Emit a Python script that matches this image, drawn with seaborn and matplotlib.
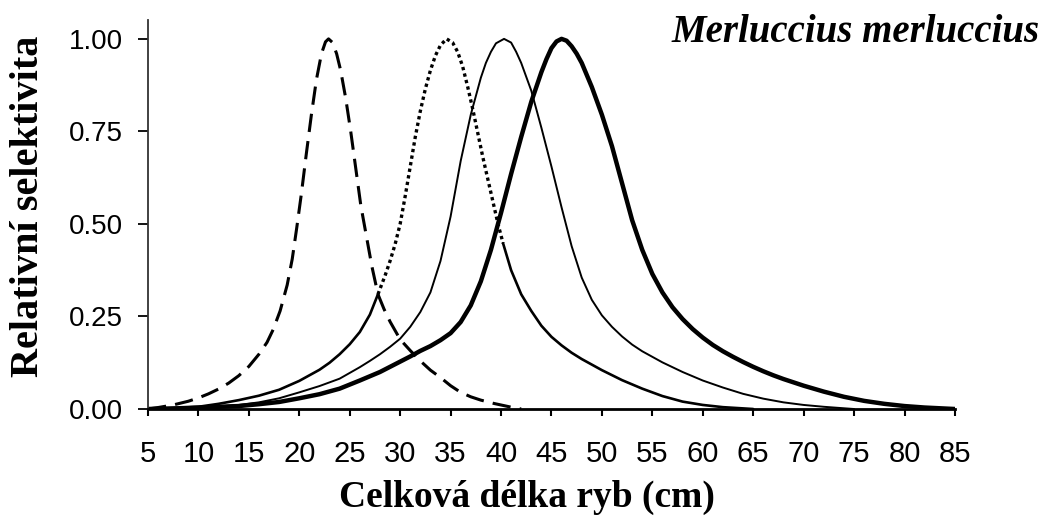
import matplotlib
matplotlib.use("Agg")
import matplotlib.pyplot as plt
import seaborn as sns

# values (length in cm, relative selectivity)
# dashed curve, peak ~23 cm
len_a = [5, 6, 7.5, 9, 10, 11, 12, 13, 14, 15, 16, 16.8, 17.4, 18.1, 18.8, 19.3, 19.75, 20.2, 20.7,
         21.2, 21.7, 22.2, 22.6, 22.9, 23.3, 23.7, 24.1, 24.6, 25.1, 25.6, 26.1, 26.7, 27.2, 27.8,
         28.4, 29, 30, 31, 32, 33, 34, 35, 36, 37, 38, 39.3, 41, 42]
sel_a = [0.0, 0.004, 0.011, 0.021, 0.03, 0.041, 0.054, 0.07, 0.09, 0.115, 0.148, 0.18, 0.214, 0.265, 0.335,
         0.405, 0.49, 0.58, 0.69, 0.795, 0.89, 0.96, 0.992, 1.0, 0.99, 0.96, 0.915, 0.84, 0.75, 0.65,
         0.55, 0.46, 0.385, 0.31, 0.27, 0.236, 0.188, 0.158, 0.13, 0.105, 0.085, 0.063, 0.045, 0.033,
         0.024, 0.015, 0.005, 0.0]

# dotted curve, peak ~35 cm (its tails are solid in the original)
len_b = [5, 8, 10, 12, 14, 16, 18, 20, 22, 23, 24, 25, 26, 27, 27.8, 28.5, 29, 29.5, 30, 30.5, 31,
         31.5, 32, 32.5, 33, 33.5, 34, 34.6, 35.2, 35.7, 36.2, 36.7, 37.2, 37.7, 38.2, 38.7, 39.2,
         39.7, 40.2, 41, 42, 43, 44, 45, 46, 47, 48, 49, 50, 52, 54, 56, 58, 60, 62, 65]
sel_b = [0.0, 0.003, 0.006, 0.014, 0.024, 0.036, 0.052, 0.076, 0.106, 0.125, 0.148, 0.175, 0.208, 0.255,
         0.31, 0.36, 0.4, 0.445, 0.5, 0.575, 0.655, 0.735, 0.805, 0.865, 0.915, 0.955, 0.983, 1.0, 0.99,
         0.965, 0.925, 0.87, 0.81, 0.745, 0.68, 0.62, 0.56, 0.5, 0.448, 0.375, 0.31, 0.265, 0.225,
         0.195, 0.172, 0.152, 0.135, 0.12, 0.105, 0.078, 0.055, 0.035, 0.02, 0.011, 0.005, 0.0]

# thin solid curve, peak ~40 cm
len_c = [5, 8, 10, 12, 14, 16, 18, 20, 22, 24, 26, 27, 28, 29, 30, 31, 32, 33, 34, 35, 36, 37, 38,
         38.5, 39, 39.5, 40.3, 41, 41.5, 42, 43, 44, 45, 46, 47, 48, 49, 50, 51, 52, 53, 54, 56, 58,
         60, 62, 64, 66, 68, 70, 72, 75]
sel_c = [0.0, 0.002, 0.004, 0.007, 0.011, 0.018, 0.029, 0.045, 0.062, 0.082, 0.113, 0.13, 0.148, 0.168,
         0.19, 0.222, 0.262, 0.315, 0.4, 0.52, 0.67, 0.795, 0.895, 0.935, 0.965, 0.988, 1.0, 0.99, 0.965,
         0.935, 0.86, 0.76, 0.655, 0.545, 0.44, 0.355, 0.295, 0.253, 0.222, 0.196, 0.174, 0.156, 0.126,
         0.1, 0.077, 0.058, 0.041, 0.028, 0.018, 0.011, 0.006, 0.0]

# thick solid curve, peak ~46 cm
len_d = [5, 8, 10, 12, 14, 16, 18, 20, 22, 24, 26, 28, 30, 31, 32, 33, 34, 35, 36, 37, 38, 39, 40,
         41, 42, 43, 44, 44.5, 45, 45.5, 46, 46.5, 47, 47.5, 48, 49, 50, 51, 52, 53, 54, 55, 56, 57,
         58, 59, 60, 61, 62, 63, 64, 65, 66, 67, 68, 70, 72, 74, 76, 78, 80, 82, 85]
sel_d = [0.0, 0.002, 0.004, 0.006, 0.008, 0.013, 0.019, 0.029, 0.04, 0.055, 0.077, 0.1, 0.128, 0.142,
         0.157, 0.17, 0.186, 0.205, 0.235, 0.28, 0.345, 0.43, 0.53, 0.635, 0.735, 0.83, 0.91, 0.945,
         0.975, 0.993, 1.0, 0.995, 0.98, 0.96, 0.935, 0.87, 0.795, 0.71, 0.61, 0.51, 0.43, 0.365, 0.315,
         0.275, 0.243, 0.216, 0.193, 0.173, 0.156, 0.141, 0.127, 0.114, 0.102, 0.091, 0.081, 0.063,
         0.047, 0.033, 0.022, 0.014, 0.008, 0.004, 0.0]

x_ticks = list(range(5, 90, 5))
y_ticks = [0.0, 0.25, 0.5, 0.75, 1.0]

sns.set_style("ticks")

fig = plt.figure(figsize=(10.48, 5.18), dpi=100)
ax = fig.add_axes([0.1412, 0.2104, 0.770, 0.751])

k = "black"
sns.lineplot(x=len_a, y=sel_a, ax=ax, color=k, lw=2.2, linestyle=(0, (6, 3)))

# split the dotted curve where the original switches line style
b_left = [(x, y) for x, y in zip(len_b, sel_b) if x <= 27.8]
b_mid = [(x, y) for x, y in zip(len_b, sel_b) if 27.8 <= x <= 40.2]
b_right = [(x, y) for x, y in zip(len_b, sel_b) if x >= 40.2]
for part, ls, lw in [(b_left, "-", 1.9), (b_mid, (0, (1, 1)), 2.4), (b_right, "-", 1.9)]:
    sns.lineplot(x=[p[0] for p in part], y=[p[1] for p in part], ax=ax,
                 color=k, lw=lw, linestyle=ls)

sns.lineplot(x=len_c, y=sel_c, ax=ax, color=k, lw=1.4)
sns.lineplot(x=len_d, y=sel_d, ax=ax, color=k, lw=3.2)

ax.set_xlim(5, 85)
ax.set_ylim(0, 1.051)
ax.set_xticks(x_ticks)
ax.set_yticks(y_ticks)
ax.set_yticklabels([f"{v:.2f}" for v in y_ticks])
for s in ["top", "right"]:
    ax.spines[s].set_visible(False)
ax.spines["bottom"].set_linewidth(2.0)
ax.spines["bottom"].set_color("black")
ax.spines["left"].set_linewidth(1.3)
ax.spines["left"].set_color("#333333")
ax.tick_params(axis="x", length=5, width=1.5, pad=17, colors="black")
ax.tick_params(axis="y", length=7, width=1.3, pad=11, colors="black")
for t in ax.get_xticklabels():
    t.set_fontfamily("Liberation Sans")
    t.set_fontsize(21)
for t in ax.get_yticklabels():
    t.set_fontfamily("Liberation Sans")
    t.set_fontsize(20)
ax.set_xlabel("")
ax.set_ylabel("")

serif = "Liberation Serif"
fig.text(0.992, 0.919, "Merluccius merluccius", ha="right", va="baseline", color="black",
         fontfamily=serif, fontweight="bold", fontstyle="italic", fontsize=28)
fig.text(0.503, 0.021, "Celková délka ryb (cm)", ha="center", va="baseline", color="black",
         fontfamily=serif, fontweight="bold", fontsize=27)
fig.text(0.027, 0.602, "Relativní selektivita", ha="center", va="center", rotation=90,
         color="black", fontfamily=serif, fontweight="bold", fontsize=29)

fig.savefig("out.png", dpi=100)
